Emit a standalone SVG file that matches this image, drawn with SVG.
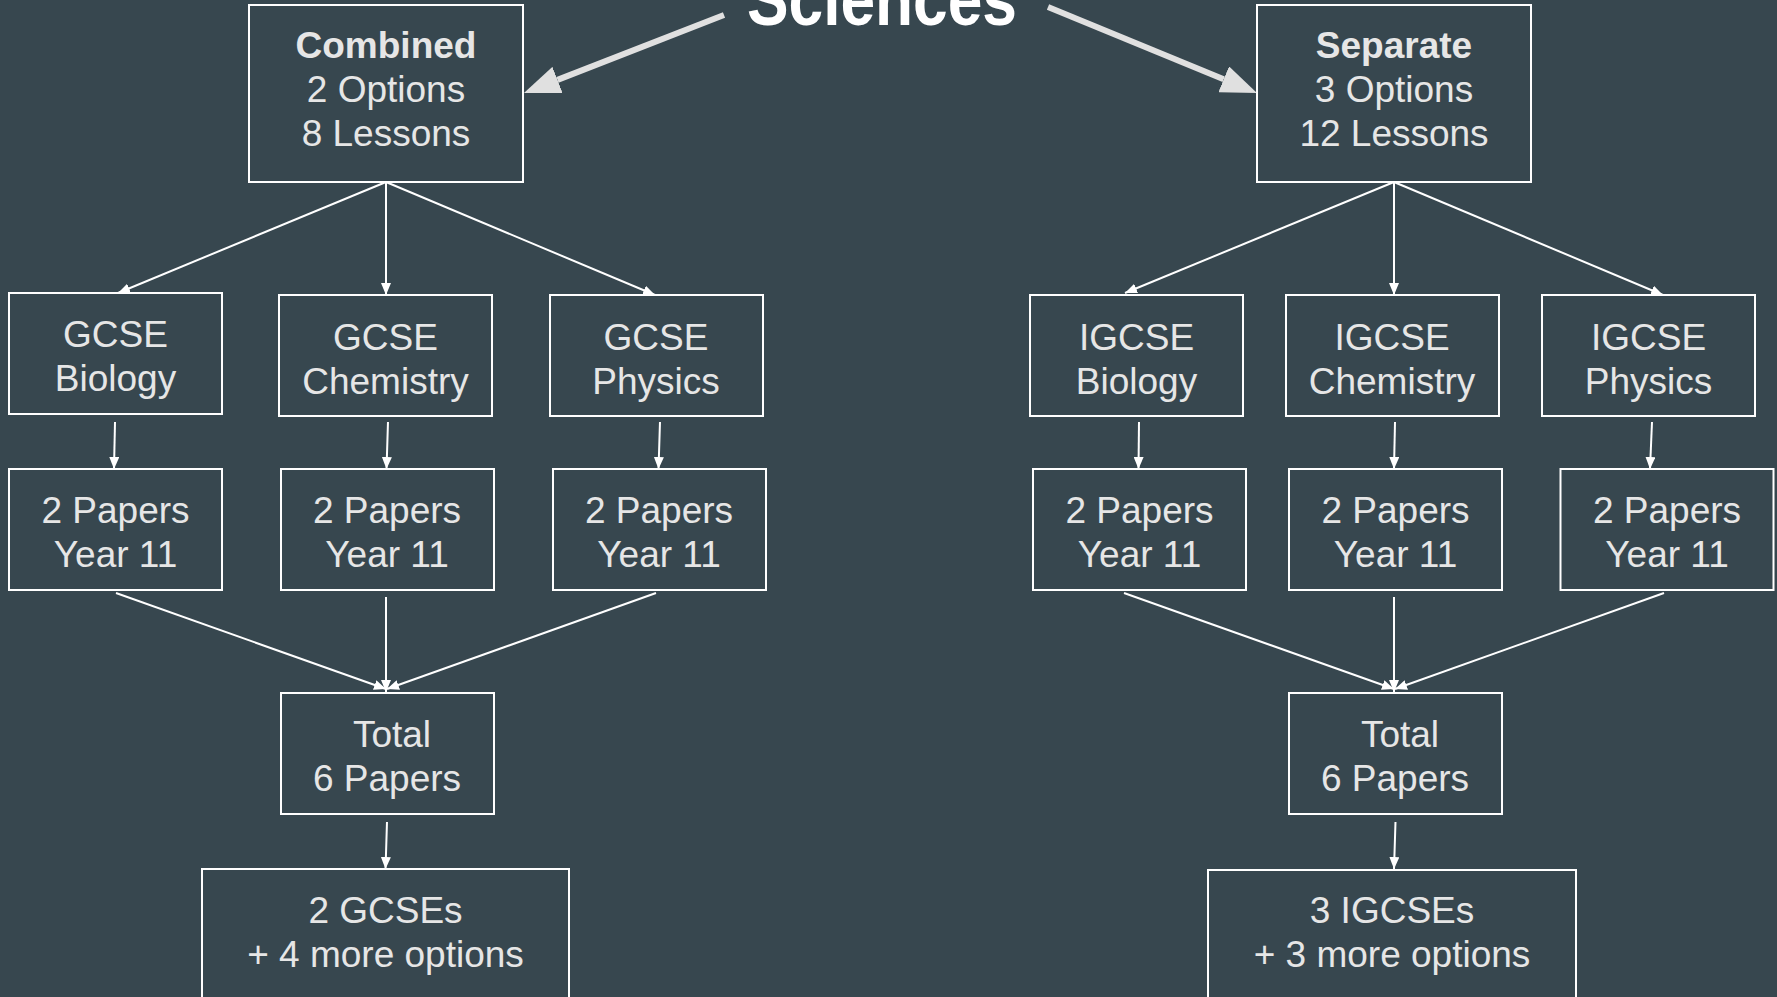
<svg xmlns="http://www.w3.org/2000/svg" width="1777" height="997" viewBox="0 0 1777 997">
<style>
.bg{fill:#37474f}
.box{fill:#37474f;stroke:#ffffff;stroke-width:2}
.t{font-family:"Liberation Sans",Arial,sans-serif;font-size:37px;fill:#e6e6e6;text-anchor:middle}
.b{font-weight:bold}
.title{font-family:"Liberation Sans",Arial,sans-serif;font-size:74px;font-weight:bold;fill:#ffffff;text-anchor:middle}
.c{stroke:#ffffff;stroke-width:2;fill:none;marker-end:url(#ah)}
.big{stroke:#e0e0e0;stroke-width:6;fill:none;marker-end:url(#bh)}
</style>
<defs>
<marker id="ah" viewBox="0 0 12 10" refX="12" refY="5" markerWidth="12" markerHeight="10" markerUnits="userSpaceOnUse" orient="auto">
<path d="M0,0 L12,5 L0,10 z" fill="#ffffff"/>
</marker>
<marker id="bh" viewBox="0 0 36 28" refX="0" refY="14" markerWidth="36" markerHeight="28" markerUnits="userSpaceOnUse" orient="auto">
<path d="M0,0 L36,14 L0,28 z" fill="#e0e0e0"/>
</marker>
</defs>
<rect class="bg" x="0" y="0" width="1777" height="997"/>

<g id="title">
<text class="title" x="882" y="25" textLength="270" lengthAdjust="spacingAndGlyphs">Sciences</text>
</g>

<g id="connectors">
<line class="big" x1="724" y1="15" x2="557.5" y2="79.9"/>
<line class="big" x1="1048" y1="7" x2="1223.7" y2="79.3"/>
<line class="c" x1="386" y1="182" x2="118" y2="293"/>
<line class="c" x1="386" y1="182" x2="386" y2="295"/>
<line class="c" x1="386" y1="182" x2="655" y2="295"/>
<line class="c" x1="115" y1="422" x2="114" y2="469"/>
<line class="c" x1="388" y1="422" x2="386.5" y2="469"/>
<line class="c" x1="660" y1="422" x2="658.5" y2="469"/>
<line class="c" x1="116" y1="593" x2="386" y2="689"/>
<line class="c" x1="386" y1="597" x2="386" y2="692"/>
<line class="c" x1="656" y1="593" x2="387" y2="689"/>
<line class="c" x1="387" y1="822" x2="385.5" y2="869"/>
<line class="c" x1="1394" y1="182" x2="1125" y2="293"/>
<line class="c" x1="1394" y1="182" x2="1394" y2="295"/>
<line class="c" x1="1394" y1="182" x2="1663" y2="295"/>
<line class="c" x1="1139" y1="422" x2="1138.5" y2="469"/>
<line class="c" x1="1395" y1="422" x2="1394" y2="469"/>
<line class="c" x1="1652" y1="422" x2="1650" y2="469"/>
<line class="c" x1="1124" y1="593" x2="1394" y2="689"/>
<line class="c" x1="1394" y1="597" x2="1394" y2="692"/>
<line class="c" x1="1664" y1="593" x2="1395" y2="689"/>
<line class="c" x1="1395.5" y1="822" x2="1394" y2="869"/>
</g>

<g id="combined">
<rect class="box" x="249" y="5" width="274" height="177"/>
<text class="t b" x="386" y="58">Combined</text>
<text class="t" x="386" y="102">2 Options</text>
<text class="t" x="386" y="146">8 Lessons</text>
</g>
<g id="separate">
<rect class="box" x="1257" y="5" width="274" height="177"/>
<text class="t b" x="1394" y="58">Separate</text>
<text class="t" x="1394" y="102">3 Options</text>
<text class="t" x="1394" y="146">12 Lessons</text>
</g>

<g id="gcse-biology">
<rect class="box" x="9" y="293" width="213" height="121"/>
<text class="t" x="115.5" y="347">GCSE</text>
<text class="t" x="115.5" y="391">Biology</text>
</g>
<g id="gcse-chemistry">
<rect class="box" x="279" y="295" width="213" height="121"/>
<text class="t" x="385.5" y="350">GCSE</text>
<text class="t" x="385.5" y="394">Chemistry</text>
</g>
<g id="gcse-physics">
<rect class="box" x="550" y="295" width="213" height="121"/>
<text class="t" x="656" y="350">GCSE</text>
<text class="t" x="656" y="394">Physics</text>
</g>

<g id="papers-left-bio">
<rect class="box" x="9" y="469" width="213" height="121"/>
<text class="t" x="115.5" y="523">2 Papers</text>
<text class="t" x="115.5" y="567">Year 11</text>
</g>
<g id="papers-left-chem">
<rect class="box" x="281" y="469" width="213" height="121"/>
<text class="t" x="387" y="523">2 Papers</text>
<text class="t" x="387" y="567">Year 11</text>
</g>
<g id="papers-left-phys">
<rect class="box" x="553" y="469" width="213" height="121"/>
<text class="t" x="659" y="523">2 Papers</text>
<text class="t" x="659" y="567">Year 11</text>
</g>

<g id="total-left">
<rect class="box" x="281" y="693" width="213" height="121"/>
<text class="t" x="392" y="747">Total</text>
<text class="t" x="387" y="791">6 Papers</text>
</g>
<g id="result-left">
<rect class="box" x="202" y="869" width="367" height="140"/>
<text class="t" x="385.5" y="923">2 GCSEs</text>
<text class="t" x="385.5" y="967">+ 4 more options</text>
</g>

<g id="igcse-biology">
<rect class="box" x="1030" y="295" width="213" height="121"/>
<text class="t" x="1136.5" y="350">IGCSE</text>
<text class="t" x="1136.5" y="394">Biology</text>
</g>
<g id="igcse-chemistry">
<rect class="box" x="1286" y="295" width="213" height="121"/>
<text class="t" x="1392" y="350">IGCSE</text>
<text class="t" x="1392" y="394">Chemistry</text>
</g>
<g id="igcse-physics">
<rect class="box" x="1542" y="295" width="213" height="121"/>
<text class="t" x="1648.5" y="350">IGCSE</text>
<text class="t" x="1648.5" y="394">Physics</text>
</g>

<g id="papers-right-bio">
<rect class="box" x="1033" y="469" width="213" height="121"/>
<text class="t" x="1139.5" y="523">2 Papers</text>
<text class="t" x="1139.5" y="567">Year 11</text>
</g>
<g id="papers-right-chem">
<rect class="box" x="1289" y="469" width="213" height="121"/>
<text class="t" x="1395.5" y="523">2 Papers</text>
<text class="t" x="1395.5" y="567">Year 11</text>
</g>
<g id="papers-right-phys">
<rect class="box" x="1560.5" y="469" width="213" height="121"/>
<text class="t" x="1667" y="523">2 Papers</text>
<text class="t" x="1667" y="567">Year 11</text>
</g>

<g id="total-right">
<rect class="box" x="1289" y="693" width="213" height="121"/>
<text class="t" x="1400" y="747">Total</text>
<text class="t" x="1395" y="791">6 Papers</text>
</g>
<g id="result-right">
<rect class="box" x="1208" y="870" width="368" height="140"/>
<text class="t" x="1392" y="923">3 IGCSEs</text>
<text class="t" x="1392" y="967">+ 3 more options</text>
</g>
</svg>
